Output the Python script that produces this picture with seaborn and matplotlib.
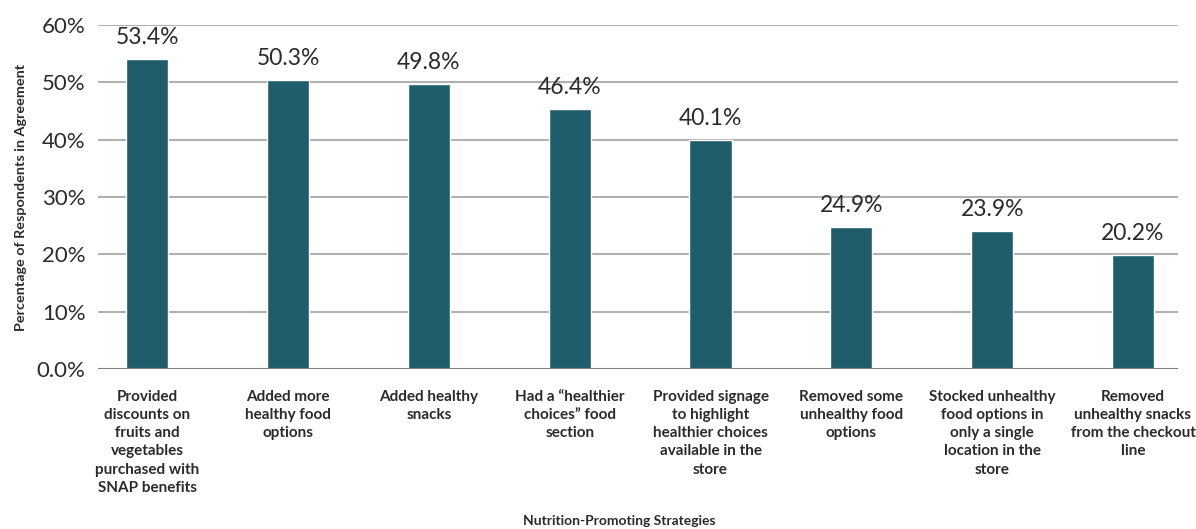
import matplotlib
matplotlib.use("Agg")
import matplotlib.pyplot as plt
import seaborn as sns
import pandas as pd

categories = [
    "Provided\ndiscounts on\nfruits and\nvegetables\npurchased with\nSNAP benefits",
    "Added more\nhealthy food\noptions",
    "Added healthy\nsnacks",
    "Had a \u201chealthier\nchoices\u201d food\nsection",
    "Provided signage\nto highlight\nhealthier choices\navailable in the\nstore",
    "Removed some\nunhealthy food\noptions",
    "Stocked unhealthy\nfood options in\nonly a single\nlocation in the\nstore",
    "Removed\nunhealthy snacks\nfrom the checkout\nline",
]
# bar heights as drawn in the picture
bar_values = [54.1, 50.4, 49.7, 45.4, 40.0, 24.8, 24.1, 19.9]
# printed data labels
value_labels = ["53.4%", "50.3%", "49.8%", "46.4%", "40.1%", "24.9%", "23.9%", "20.2%"]
y_ticks = [0, 10, 20, 30, 40, 50, 60]
y_tick_labels = ["0.0%", "10%", "20%", "30%", "40%", "50%", "60%"]

sns.set_style("white")
plt.rcParams["font.family"] = ["Lato", "DejaVu Sans"]

text_color = "#2b2b2b"
bar_color = "#205d6a"

df = pd.DataFrame({"cat": categories, "val": bar_values})

fig = plt.figure(figsize=(11.96, 5.29), dpi=100)
ax = fig.add_axes([0.0819, 0.3025, 0.9031, 0.6502])

sns.barplot(data=df, x="cat", y="val", color=bar_color, width=0.3,
            saturation=1, ax=ax, zorder=3)

ax.set_ylim(0, 60)
ax.set_xlim(-0.35, 7.32)
ax.set_yticks(y_ticks)
ax.set_yticklabels(y_tick_labels, fontsize=16, color=text_color)
ax.tick_params(axis="y", length=0, pad=9)
ax.tick_params(axis="x", length=0, pad=15)
for lbl in ax.get_xticklabels():
    lbl.set_fontsize(11)
    lbl.set_fontweight("bold")
    lbl.set_color(text_color)
    lbl.set_linespacing(1.38)
    lbl.set_horizontalalignment("center")
    lbl.set_verticalalignment("top")

for s in ax.spines.values():
    s.set_visible(False)
for t in y_ticks[1:]:
    ax.axhline(t, color="#b0b0b0", lw=1.5, zorder=1)
ax.axhline(0, color="#7f7f7f", lw=1.5, zorder=4)

for patch, lab in zip(ax.patches, value_labels):
    x = patch.get_x() + patch.get_width() / 2
    y = patch.get_height()
    ax.annotate(lab, (x, y), xytext=(0, 15.5), textcoords="offset points",
                ha="center", va="center", fontsize=16.5, color=text_color)

ax.set_xlabel("")
ax.set_ylabel("Percentage of Respondents in Agreement", fontsize=10.4,
              fontweight="bold", color=text_color)
ax.yaxis.set_label_coords(-0.066, 0.5)
fig.text(0.518, 1 - 521 / 529, "Nutrition-Promoting Strategies", fontsize=10,
         fontweight="bold", color=text_color, ha="center", va="center")

fig.savefig("out.png", dpi=100)
